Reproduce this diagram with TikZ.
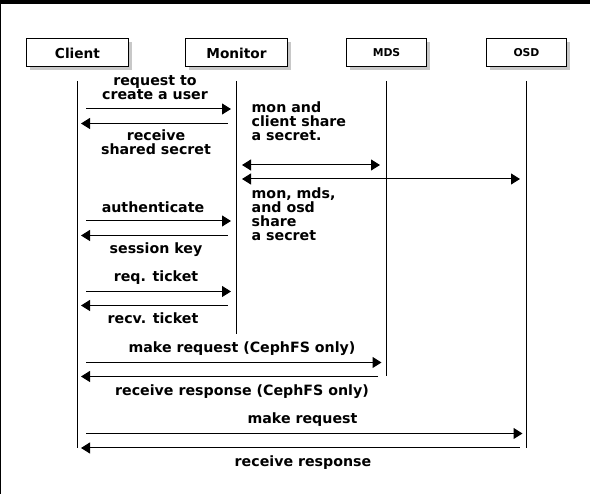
\documentclass[tikz,border=0pt]{standalone}
\usepackage{fontspec}
\setmainfont{DejaVu Sans}
\usetikzlibrary{arrows.meta,shadows}
\newcommand\ctrlines[1]{\vtop{\halign{\hfil##\hfil\cr#1\crcr}}}
\newcommand\leftlines[1]{\vtop{\halign{##\hfil\cr#1\crcr}}}
\begin{document}
\begin{tikzpicture}[x=1pt,y=-1pt,
  actor/.style={draw=black, line width=1pt, fill=white, minimum width=102pt,
    minimum height=28pt, inner sep=0pt, font=\fontsize{13.7}{16}\selectfont\bfseries,
    drop shadow={shadow xshift=3pt, shadow yshift=-3pt, fill=black!30, opacity=0.7}},
  smallactor/.style={actor, minimum width=80pt, font=\fontsize{10.8}{13}\selectfont\bfseries},
  life/.style={line width=1pt},
  msg/.style={line width=1pt, -{Triangle[length=9pt,width=11pt]}},
  bimsg/.style={line width=1pt, {Triangle[length=9pt,width=11pt]}-{Triangle[length=9pt,width=11pt]}},
  lbl/.style={anchor=base, inner sep=0pt, font=\fontsize{14.2}{14}\selectfont\bfseries},
  note/.style={anchor=base west, inner sep=0pt, font=\fontsize{14.2}{14}\selectfont\bfseries}]
\useasboundingbox (0,0) rectangle (590,494);
\fill[white] (0,0) rectangle (590,494);
\fill[black] (0,0) rectangle (590,4);
\fill[black] (0,0) rectangle (1,494);

% actors
\node[actor] (client) at (77.5,53) {Client};
\node[actor] (monitor) at (236.5,53) {Monitor};
\node[smallactor] (mds) at (386.5,53) {MDS};
\node[smallactor] (osd) at (526.5,53) {OSD};

% lifelines
\draw[life] ([xshift=-0.5pt]client.south |- 0,81) -- ([xshift=-0.5pt]client.south |- 0,448);
\draw[life] ([xshift=-0.5pt]monitor.south |- 0,81) -- ([xshift=-0.5pt]monitor.south |- 0,334);
\draw[life] ([xshift=-0.5pt]mds.south |- 0,81) -- ([xshift=-0.5pt]mds.south |- 0,376.5);
\draw[life] ([xshift=-0.5pt]osd.south |- 0,81) -- ([xshift=-0.5pt]osd.south |- 0,448);

% messages client <-> monitor
\draw[msg] ([xshift=8.5pt]client.south |- 0,109) -- ([xshift=-5.5pt]monitor.south |- 0,109);
\draw[msg] ([xshift=-9pt]monitor.south |- 0,123.5) -- ([xshift=3.5pt]client.south |- 0,123.5);
\node[lbl] (l1) at (155,85.7) {\ctrlines{request to\cr create a user}};
\node[lbl] (l2) at (156,141) {\ctrlines{receive\cr shared secret}};
\node[note] (n1) at (251.5,112.5) {\leftlines{mon and\cr client share\cr a secret.}};

% monitor <-> mds / osd
\draw[bimsg] ([xshift=5.5pt]monitor.south |- 0,165) -- ([xshift=-6.5pt]mds.south |- 0,165);
\draw[bimsg] ([xshift=5.5pt]monitor.south |- 0,179) -- ([xshift=-6.5pt]osd.south |- 0,179);
\node[note] (n2) at (251.5,198.3) {\leftlines{mon, mds,\cr and osd\cr share\cr a secret}};

% authenticate
\draw[msg] ([xshift=8.5pt]client.south |- 0,221) -- ([xshift=-5.5pt]monitor.south |- 0,221);
\draw[msg] ([xshift=-9pt]monitor.south |- 0,235.5) -- ([xshift=3.5pt]client.south |- 0,235.5);
\node[lbl] (l3) at (153,212.3) {authenticate};
\node[lbl] (l4) at (156,253.5) {session key};

% tickets
\draw[msg] ([xshift=8.5pt]client.south |- 0,291.5) -- ([xshift=-5.5pt]monitor.south |- 0,291.5);
\draw[msg] ([xshift=-9pt]monitor.south |- 0,305.5) -- ([xshift=3.5pt]client.south |- 0,305.5);
\node[lbl] (l5) at (156,281.7) {req. ticket};
\node[lbl] (l6) at (153,324) {recv. ticket};

% CephFS
\draw[msg] ([xshift=8.5pt]client.south |- 0,362.5) -- ([xshift=-5pt]mds.south |- 0,362.5);
\draw[msg] ([xshift=-8.5pt]mds.south |- 0,376.5) -- ([xshift=3.5pt]client.south |- 0,376.5);
\node[lbl] (l7) at (242,353) {make request (CephFS only)};
\node[lbl] (l8) at (242,395.5) {receive response (CephFS only)};

% OSD
\draw[msg] ([xshift=8.5pt]client.south |- 0,433.5) -- ([xshift=-4pt]osd.south |- 0,433.5);
\draw[msg] ([xshift=-7pt]osd.south |- 0,448) -- ([xshift=3.5pt]client.south |- 0,448);
\node[lbl] (l9) at (302.5,424) {make request};
\node[lbl] (l10) at (303,467) {receive response};
\end{tikzpicture}
\end{document}
